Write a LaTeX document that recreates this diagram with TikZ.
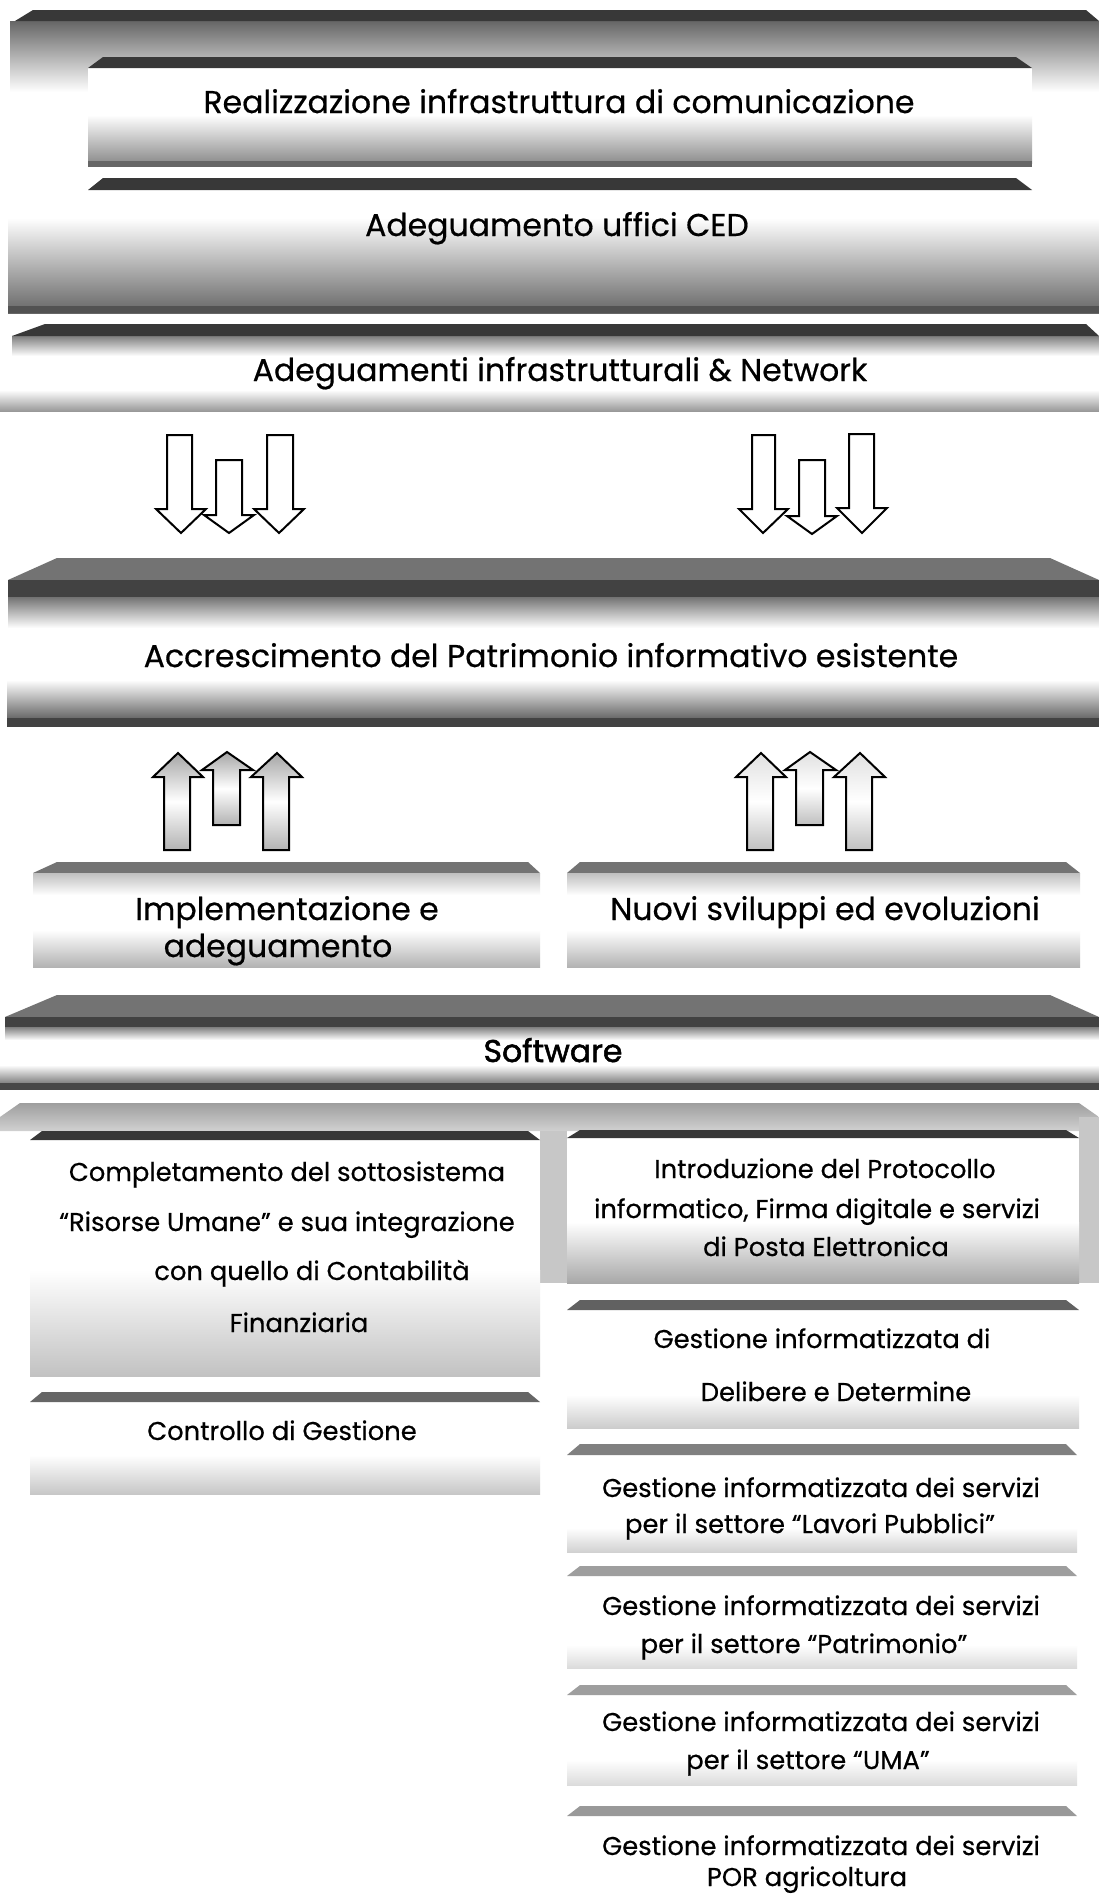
\documentclass[tikz,border=0pt]{standalone}
\usepackage{fontspec}
\setmainfont{Poppins}[FakeBold=0.5]
\newfontfamily\softfont{Poppins}[FakeBold=1.6]
\begin{document}
\begin{tikzpicture}[x=1pt,y=-1pt,
  darkbevel/.style={fill=black!78},
  midbevel/.style={fill=black!55},
  ttl/.style={font=\fontsize{31.5}{38}\selectfont, anchor=base, inner sep=0pt},
  coltext/.style={font=\fontsize{25.8}{32}\selectfont, anchor=base, inner sep=0pt},
  blockarrow/.style={draw=black, line width=2pt, line join=miter, fill=white},
  uparrowL/.style={blockarrow, top color=black!35, bottom color=black!30, middle color=white},
  uparrowR/.style={blockarrow, top color=black!12, bottom color=black!25, middle color=white},
]
\useasboundingbox (0,0) rectangle (1099,1895);
\fill[white] (0,0) rectangle (1099,1895);

% ---------- top slab (no text)
\shade[top color=black!60, bottom color=white] (10,21) rectangle (1099,92);
\fill[darkbevel] (33,10) -- (1086,10) -- (1099,21) -- (15,21) -- cycle;

% ---------- slab 1
\fill[white] (88,68) rectangle (1032,167);
\fill[darkbevel] (103,57) -- (1016,57) -- (1032,68) -- (88,68) -- cycle;
\shade[top color=white, bottom color=black!45] (88,115) rectangle (1032,163);
\fill[black!60] (88,161) rectangle (1032,167);
\node[ttl] (realizzazione) at (559,113) {Realizzazione infrastruttura di comunicazione};

% ---------- slab 2
\shade[top color=white, bottom color=black!60] (8,218) rectangle (1099,313);
\fill[black!68] (8,306) rectangle (1099,313);
\fill[white] (88,190) rectangle (1032,218);
\fill[darkbevel] (103,178) -- (1016,178) -- (1032,190) -- (88,190) -- cycle;
\node[ttl] (ced) at (557,236) {Adeguamento uffici CED};

% ---------- slab 3
\shade[top color=black!50, bottom color=white] (12,336) rectangle (1099,356);
\fill[darkbevel] (45,324) -- (1086,324) -- (1099,336) -- (12,336) -- cycle;
\shade[top color=white, bottom color=black!40] (0,390) rectangle (1099,411);
\node[ttl] (network) at (560,381) {Adeguamenti infrastrutturali \& Network};

% ---------- down arrows (left group)
\draw[blockarrow] (167,435) -- (192,435) -- (192,509) -- (206,509) -- (181,533) -- (156,509) -- (167,509) -- cycle;
\draw[blockarrow] (216,460) -- (242,460) -- (242,515) -- (254,515) -- (229,533) -- (204,515) -- (216,515) -- cycle;
\draw[blockarrow] (267,435) -- (293,435) -- (293,509) -- (304,509) -- (279,533) -- (254,509) -- (267,509) -- cycle;
% ---------- down arrows (right group)
\draw[blockarrow] (752,435) -- (775,435) -- (775,509) -- (788,509) -- (763,533) -- (739,509) -- (752,509) -- cycle;
\draw[blockarrow] (799,460) -- (825,460) -- (825,516) -- (837,516) -- (812,534) -- (787,516) -- (799,516) -- cycle;
\draw[blockarrow] (849,434) -- (874,434) -- (874,508) -- (887,508) -- (862,533) -- (837,508) -- (849,508) -- cycle;

% ---------- slab 4
\fill[midbevel] (57,558) -- (1050,558) -- (1099,580) -- (8,580) -- cycle;
\fill[black!74] (8,580) rectangle (1099,597);
\shade[top color=black!55, bottom color=white] (8,597) rectangle (1099,628);
\shade[top color=white, bottom color=black!62] (7,680) rectangle (1099,720);
\fill[black!74] (7,718) rectangle (1099,727);
\node[ttl] (accrescimento) at (551,667) {Accrescimento del Patrimonio informativo esistente};

% ---------- up arrows (left group)
\draw[uparrowL] (164,850) -- (164,777) -- (153,777) -- (178,753) -- (203,777) -- (190,777) -- (190,850) -- cycle;
\draw[uparrowL] (213,825) -- (213,770) -- (202,770) -- (227,752) -- (253,770) -- (240,770) -- (240,825) -- cycle;
\draw[uparrowL] (263,850) -- (263,777) -- (251,777) -- (277,753) -- (302,777) -- (289,777) -- (289,850) -- cycle;
% ---------- up arrows (right group)
\draw[uparrowR] (747,850) -- (747,777) -- (736,777) -- (761,753) -- (786,777) -- (773,777) -- (773,850) -- cycle;
\draw[uparrowR] (796,825) -- (796,770) -- (785,770) -- (810,752) -- (836,770) -- (823,770) -- (823,825) -- cycle;
\draw[uparrowR] (846,850) -- (846,777) -- (834,777) -- (860,753) -- (885,777) -- (872,777) -- (872,850) -- cycle;

% ---------- slab 5 left / right
\fill[midbevel] (57,862) -- (528,862) -- (540,873) -- (33,873) -- cycle;
\shade[top color=black!25, bottom color=white] (33,873) rectangle (540,895);
\shade[top color=white, bottom color=black!30] (33,930) rectangle (540,967);
\node[ttl] (impl1) at (287,920) {Implementazione e};
\node[ttl] (impl2) at (278,957) {adeguamento};

\fill[midbevel] (580,862) -- (1066,862) -- (1080,873) -- (567,873) -- cycle;
\shade[top color=black!25, bottom color=white] (567,873) rectangle (1080,895);
\shade[top color=white, bottom color=black!30] (567,930) rectangle (1080,967);
\node[ttl] (nuovi) at (825,920) {Nuovi sviluppi ed evoluzioni};

% ---------- slab 6 (Software)
\fill[midbevel] (57,995) -- (1050,995) -- (1099,1017) -- (5,1017) -- cycle;
\fill[black!74] (5,1017) rectangle (1099,1027);
\shade[top color=black!50, bottom color=white] (5,1027) rectangle (1099,1040);
\shade[top color=white, bottom color=black!55] (0,1065) rectangle (1099,1085);
\fill[black!72] (0,1083) rectangle (1099,1090);
\node[ttl, font=\fontsize{31.5}{38}\softfont] (software) at (553,1062) {Software};

% ---------- base under the two columns
\shade[top color=black!38, bottom color=black!18] (20,1103) -- (1079,1103) -- (1099,1117) -- (1099,1131) -- (0,1131) -- (0,1117) -- cycle;
\fill[black!22] (540,1131) rectangle (567,1283);
\fill[black!22] (1079,1117) rectangle (1099,1283);

% ---------- left column
\fill[white] (30,1140) rectangle (540,1376);
\fill[darkbevel] (42,1131) -- (528,1131) -- (540,1140) -- (30,1140) -- cycle;
\shade[top color=white, bottom color=black!24] (30,1270) rectangle (540,1376);
\node[coltext] (l1a) at (287,1181) {Completamento del sottosistema};
\node[coltext] (l1b) at (287,1231) {“Risorse Umane” e sua integrazione};
\node[coltext] (l1c) at (312,1280) {con quello di Contabilità};
\node[coltext] (l1d) at (299,1332) {Finanziaria};

\fill[black!60] (42,1392) -- (528,1392) -- (540,1402) -- (30,1402) -- cycle;
\shade[top color=white, bottom color=black!22] (30,1455) rectangle (540,1494);
\node[coltext] (l2) at (282,1440) {Controllo di Gestione};

% ---------- right column
\fill[white] (567,1138) rectangle (1079,1283);
\fill[darkbevel] (580,1130) -- (1066,1130) -- (1079,1138) -- (567,1138) -- cycle;
\shade[top color=white, bottom color=black!34] (567,1222) rectangle (1079,1283);
\node[coltext] (r1a) at (825,1178) {Introduzione del Protocollo};
\node[coltext] (r1b) at (817,1218) {informatico, Firma digitale e servizi};
\node[coltext] (r1c) at (826,1256) {di Posta Elettronica};

\fill[black!62] (580,1300) -- (1066,1300) -- (1079,1310) -- (567,1310) -- cycle;
\shade[top color=white, bottom color=black!20] (567,1395) rectangle (1079,1428);
\node[coltext] (r2a) at (822,1348) {Gestione informatizzata di};
\node[coltext] (r2b) at (836,1401) {Delibere e Determine};

\fill[black!50] (580,1444) -- (1066,1444) -- (1077,1455) -- (567,1455) -- cycle;
\shade[top color=white, bottom color=black!18] (567,1528) rectangle (1077,1552);
\node[coltext] (r3a) at (821,1497) {Gestione informatizzata dei servizi};
\node[coltext] (r3b) at (810,1533) {per il settore “Lavori Pubblici”};

\fill[black!38] (580,1566) -- (1066,1566) -- (1077,1576) -- (567,1576) -- cycle;
\shade[top color=white, bottom color=black!14] (567,1645) rectangle (1077,1668);
\node[coltext] (r4a) at (821,1615) {Gestione informatizzata dei servizi};
\node[coltext] (r4b) at (804,1653) {per il settore “Patrimonio”};

\fill[black!38] (580,1685) -- (1066,1685) -- (1077,1695) -- (567,1695) -- cycle;
\shade[top color=white, bottom color=black!14] (567,1760) rectangle (1077,1785);
\node[coltext] (r5a) at (821,1731) {Gestione informatizzata dei servizi};
\node[coltext] (r5b) at (808,1769) {per il settore “UMA”};

\fill[black!40] (580,1806) -- (1066,1806) -- (1077,1816) -- (567,1816) -- cycle;
\node[coltext] (r6a) at (821,1855) {Gestione informatizzata dei servizi};
\node[coltext] (r6b) at (807,1886) {POR agricoltura};
\end{tikzpicture}
\end{document}
